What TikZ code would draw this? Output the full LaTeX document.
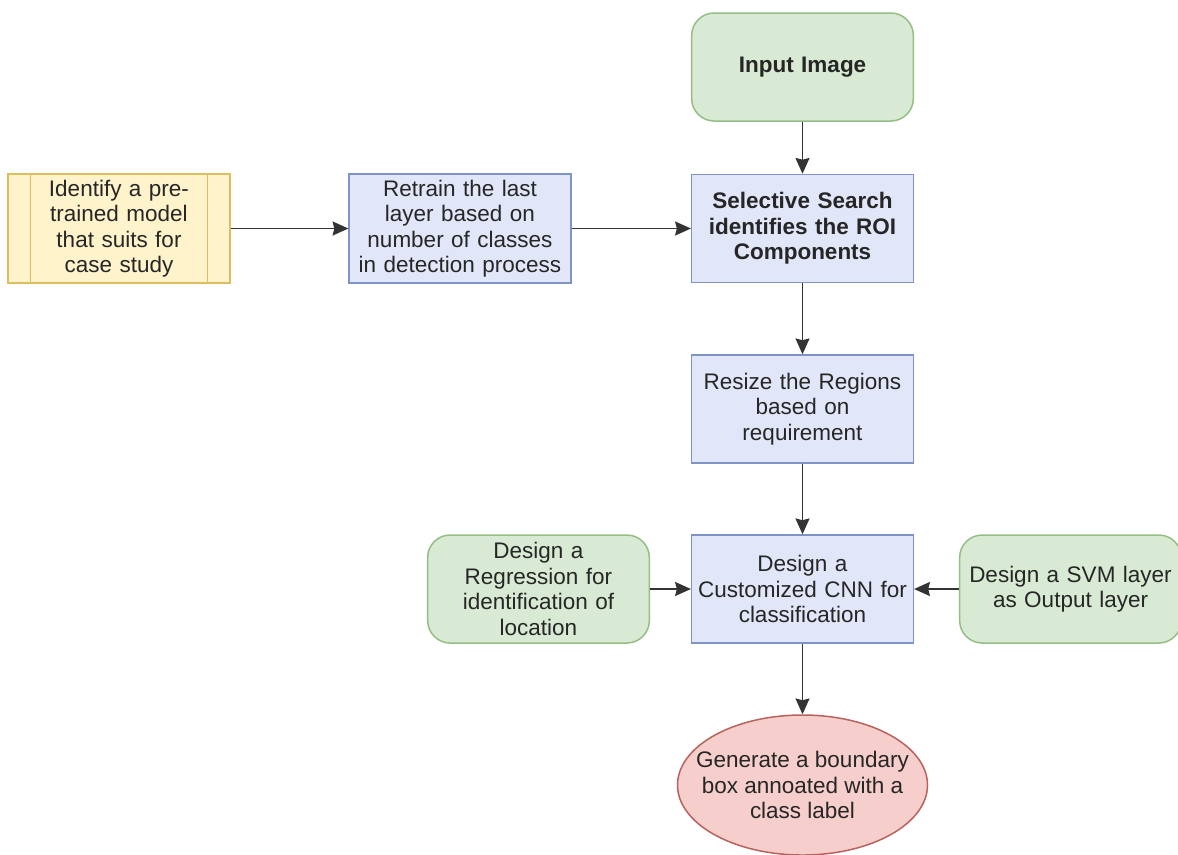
\documentclass[tikz,border=0pt]{standalone}
\usepackage{fontspec}
\setmainfont{Liberation Sans}
\usetikzlibrary{shapes,arrows.meta,positioning}
\definecolor{bluefill}{HTML}{E1E7F8}
\definecolor{blueline}{HTML}{7F93C4}
\definecolor{greenfill}{HTML}{D8EAD3}
\definecolor{greenline}{HTML}{95BE85}
\definecolor{yellowfill}{HTML}{FFF3CC}
\definecolor{yellowline}{HTML}{DCBE5E}
\definecolor{redfill}{HTML}{F6CECB}
\definecolor{redline}{HTML}{B9625D}
\tikzstyle{every picture}=[node distance=2cm, >={Stealth[length=9pt,width=8pt,inset=1pt]}, line width=0.85pt]
\tikzstyle{box}=[draw, minimum width=4.32cm, minimum height=2.16cm, align=center,%
	text width=4.2cm, font=\fontsize{12.8}{14.5}\selectfont, text=black!85]
\tikzstyle{blue}=[box, fill=bluefill, draw=blueline]
\tikzstyle{green}=[box, rounded corners=0.45cm, fill=greenfill, draw=greenline]
\tikzstyle{yellow}=[box, fill=yellowfill, draw=yellowline]
\tikzstyle{final}=[ellipse, draw=redline, fill=redfill, minimum width=5cm, minimum height=2.8cm,%
	inner xsep=-0.45cm, align=center, font=\fontsize{12.8}{14.5}\selectfont, text=black!85]

\begin{document}
\begin{tikzpicture}
	\useasboundingbox (0,0) rectangle (23.56,-17.08);
	\node[green] (input) at (16.05,-1.34) {\textbf{Input Image}};
	\node[blue] (search) [below of=input, node distance=3.23cm] {\textbf{Selective Search}\\ \textbf{identifies the ROI}\\ \textbf{Components}};
	\node[blue] (retrain) [left of=search, node distance=6.85cm] {Retrain the last\\ layer based on\\ number of classes\\ in detection process};
	\node[yellow] (pretrained) [left of=retrain, node distance=6.82cm] {Identify a pre-\\ trained model\\ that suits for\\ case study};
	\draw[draw=yellowline] ([xshift=0.46cm]pretrained.north west) -- ([xshift=0.46cm]pretrained.south west)
		([xshift=-0.46cm]pretrained.north east) -- ([xshift=-0.46cm]pretrained.south east);
	\node[blue] (resize) [below of=search, node distance=3.61cm] {Resize the Regions\\ based on\\ requirement};
	\node[blue] (cnn) [below of=resize, node distance=3.6cm] {Design a\\ Customized CNN for\\ classification};
	\node[green] (regression) [left of=cnn, node distance=5.28cm] {Design a\\ Regression for\\ identification of\\ location};
	\node[green] (svm) [right of=cnn, node distance=5.36cm] {Design a SVM layer\\ as Output layer};
	\node[final] (bbox) [below of=cnn, node distance=3.92cm] {Generate a boundary\\ box annoated with a\\ class label};
	\draw[black!80] (input) edge[->] (search) (pretrained) edge[->] (retrain) (retrain) edge[->] (search)
		(search) edge[->] (resize) (resize) edge[->] (cnn) (regression) edge[->] (cnn)
		(svm) edge[->] (cnn) (cnn) edge[->] (bbox);
\end{tikzpicture}
\end{document}
